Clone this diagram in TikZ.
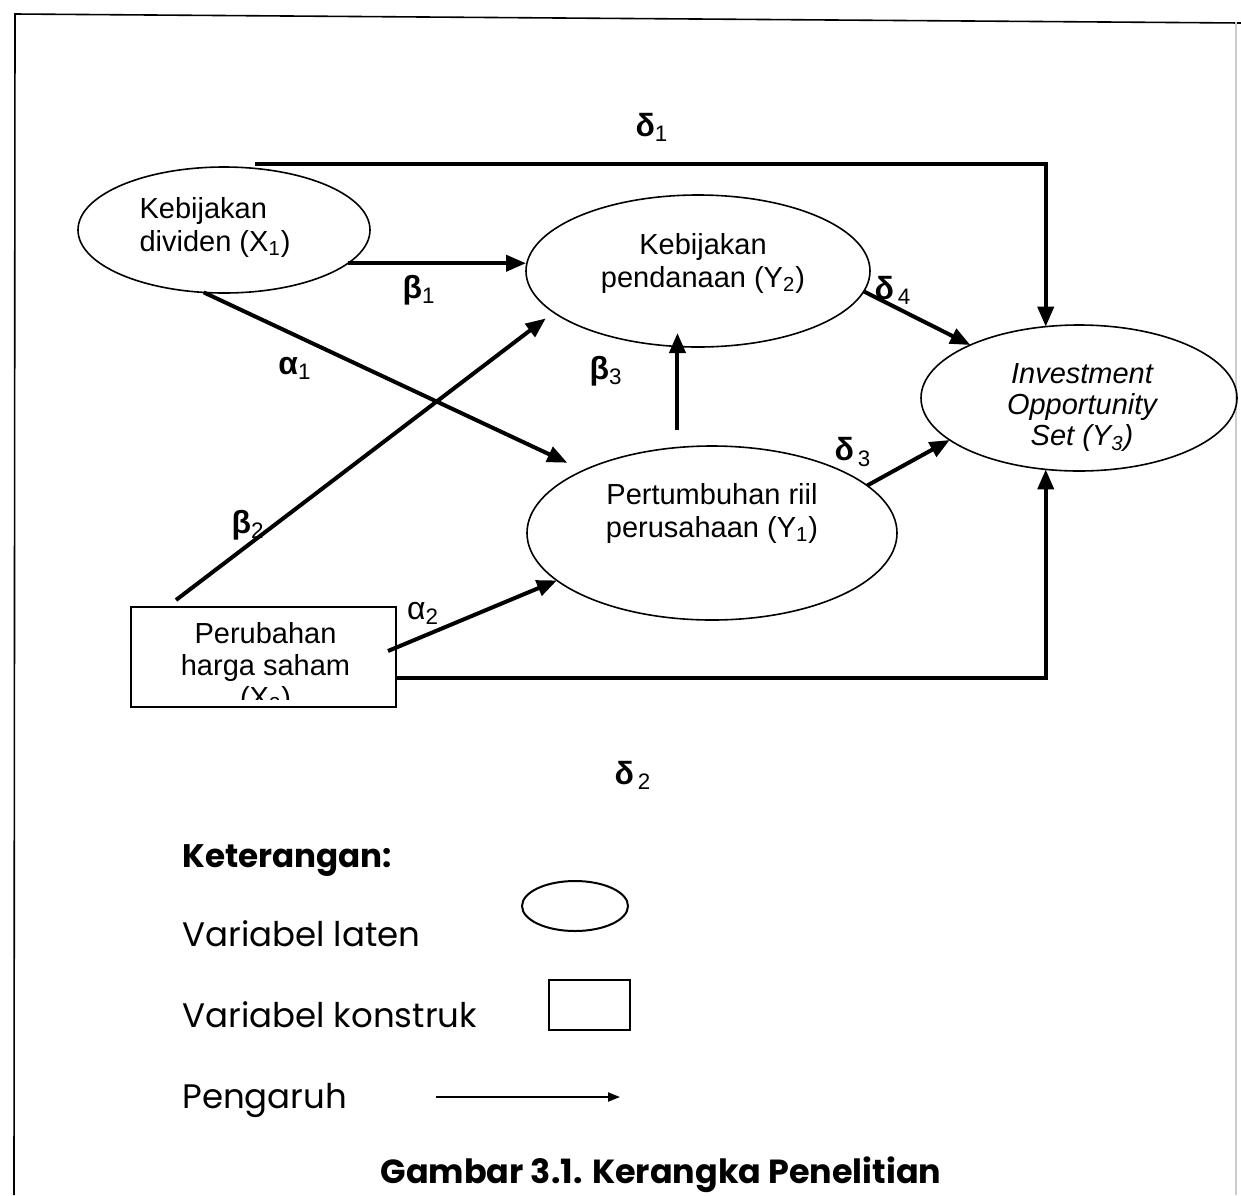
\documentclass[tikz,border=0pt]{standalone}
\usepackage{fontspec}
\setmainfont{Liberation Sans}
\newfontfamily\legendfont{Poppins}
\usetikzlibrary{shapes.geometric,arrows.meta,positioning}

\begin{document}
\begin{tikzpicture}[x=0.5pt,y=-0.5pt,
    latent/.style={draw,ellipse,line width=0.8pt,inner sep=0pt,outer sep=0pt},
    konstruk/.style={draw,rectangle,line width=0.8pt,inner sep=0pt,outer sep=0pt},
    teks/.style={align=center,inner sep=0pt,font=\fontsize{14.5}{16.5}\selectfont},
    pengaruh/.style={line width=2pt,-{Triangle[length=10pt,width=8pt]}},
    koef/.style={inner sep=0pt,font=\fontsize{16}{16}\selectfont\bfseries},
    legenda/.style={inner sep=0pt,font=\legendfont\fontsize{17}{17}\selectfont}]
    \useasboundingbox (0,0) rectangle (1241,1195);

    % 绘制外框
    \draw[line width=0.8pt] (14,1195) -- (15,14) -- (1241,23);
    \draw[gray!40,line width=0.6pt] (1236,22) -- (1236,1195);

    % 绘制变量
    \node[latent,minimum width=146pt,minimum height=63pt] (x1) at (224,230) {};
    \node[latent,minimum width=172pt,minimum height=76pt] (y2) at (698,271) {};
    \node[latent,minimum width=158pt,minimum height=73pt] (y3) at (1079,398) {};
    \node[latent,minimum width=185pt,minimum height=87pt] (y1) at (712,533) {};
    \node[konstruk,minimum width=132.5pt,minimum height=50pt] (x2) at (263.5,657) {};

    % 变量文字
    \node[teks,align=left] (x1t) at ([xshift=-4.5pt,yshift=1.5pt]x1.center) {Kebijakan\\dividen (X\textsubscript{1})};
    \node[teks] (y2t) at ([xshift=2.5pt,yshift=4pt]y2.center) {Kebijakan\\pendanaan (Y\textsubscript{2})};
    \node[teks,font=\fontsize{14.5}{15.5}\selectfont\itshape] (y3t) at ([xshift=1.5pt,yshift=-5pt]y3.center) {Investment\\Opportunity\\Set (Y\textsubscript{3})};
    \node[teks] (y1t) at ([yshift=10pt]y1.center) {Pertumbuhan riil\\perusahaan (Y\textsubscript{1})};
    \begin{scope}
        \clip (131,607) rectangle (396,699);
        \node[teks,font=\fontsize{14.5}{16}\selectfont] (x2t) at ([xshift=1pt,yshift=-5.5pt]x2.center) {Perubahan\\harga saham\\(X\textsubscript{2})};
    \end{scope}

    % 绘制路径
    \draw[pengaruh] ([yshift=2pt]x1.63) -| (y3.115);
    \draw[pengaruh] (x1.-15) -- (x1.-15 -| y2.west);
    \draw[pengaruh,shorten >=9pt] (x1.-108) -- (y1.154);
    \draw[pengaruh,shorten >=5pt] ([xshift=22.5pt,yshift=3.5pt]x2.north west) -- (y2.196);
    \draw[pengaruh] ([yshift=9pt]y1.112) -- ([yshift=7pt]y1.112 |- y2.south);
    \draw[pengaruh] (y2.-7) -- (y3.154);
    \draw[pengaruh] (y1.17) -- (y3.198);
    \draw[pengaruh] ([xshift=-4pt,yshift=3pt]x2.east) -- (y1.197);
    \draw[pengaruh] ([yshift=-10.5pt]x2.east) -| (y3.-115);

    % 添加系数标签
    \node[koef] (d1) at (652,127) {δ\textsubscript{\normalfont 1}};
    \node[koef] (b1) at (419,290) {β\textsubscript{\normalfont 1}};
    \node[koef] (a1) at (295,368) {α\textsubscript{\normalfont 1}};
    \node[koef] (b2) at (248,525) {β\textsubscript{\normalfont 2}};
    \node[koef] (b3) at (606,371) {β\textsubscript{\normalfont 3}};
    \node[koef] (d4) at (893,290) {δ\kern2pt\textsubscript{\normalfont 4}};
    \node[koef] (d3) at (853,452) {δ\kern2pt\textsubscript{\normalfont 3}};
    \node[koef,font=\fontsize{16}{16}\selectfont] (a2) at (423,613) {α\textsubscript{2}};
    \node[koef] (d2) at (633,775) {δ\kern2pt\textsubscript{\normalfont 2}};

    % 绘制图例
    \node[legenda,anchor=base west,font=\legendfont\fontsize{16.3}{16.3}\selectfont\bfseries] (ket) at (182,867) {Keterangan:};
    \node[legenda,anchor=base west] (laten) at (182,946) {Variabel laten};
    \node[latent,line width=1pt,minimum width=53pt,minimum height=25pt] (lgel) at (575,906) {};
    \node[legenda,anchor=base west] (konst) at (182,1027) {Variabel konstruk};
    \node[konstruk,line width=1pt,minimum width=40.5pt,minimum height=25pt] (lgrect) at (589.5,1005) {};
    \node[legenda,anchor=base west] (pgr) at (182,1108) {Pengaruh};
    \coordinate (pa) at (436,1097);
    \coordinate (pb) at (620,1097);
    \draw[line width=1pt,-{Triangle[length=6pt,width=4.5pt]}] (pa) -- (pb);

    % 图题
    \node[legenda,anchor=base,font=\legendfont\fontsize{16.7}{16.7}\selectfont\bfseries] (judul) at (661,1183) {Gambar 3.1. Kerangka Penelitian};
\end{tikzpicture}
\end{document}
